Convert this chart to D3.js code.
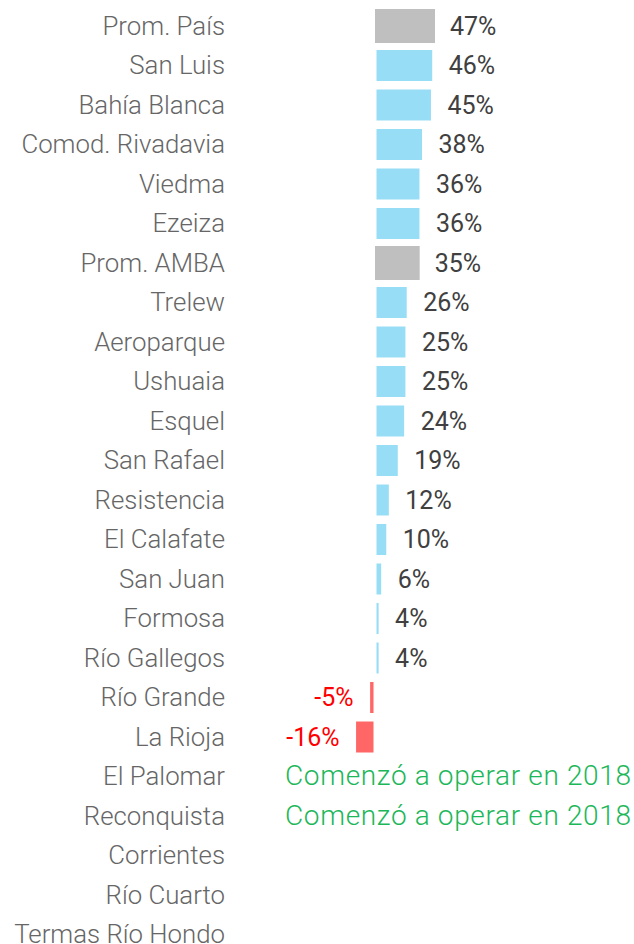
<!DOCTYPE html>
<html>
<head>
<meta charset="utf-8">
<script src="https://cdn.jsdelivr.net/npm/d3@7"></script>
<style>
  html, body { margin: 0; padding: 0; background: #fff; }
  svg text { font-family: Roboto, "Open Sans", sans-serif; }
</style>
</head>
<body>
<div id="chart"></div>
<script>
// Data
const airports = [
  'Prom. País', 'San Luis', 'Bahía Blanca', 'Comod. Rivadavia', 'Viedma', 'Ezeiza',
  'Prom. AMBA', 'Trelew', 'Aeroparque', 'Ushuaia', 'Esquel', 'San Rafael',
  'Resistencia', 'El Calafate', 'San Juan', 'Formosa', 'Río Gallegos', 'Río Grande',
  'La Rioja', 'El Palomar', 'Reconquista', 'Corrientes', 'Río Cuarto', 'Termas Río Hondo'
];
const growth = [
  47, 46, 45, 38, 36, 36,
  35, 26, 25, 25, 24, 19,
  12, 10, 6, 4, 4, -5,
  -16, null, null, null, null, null
];
const averages = ['Prom. País', 'Prom. AMBA'];
const notes = { 'El Palomar': 'Comenzó a operar en 2018', 'Reconquista': 'Comenzó a operar en 2018' };

const width = 634;
const height = 944;

const svg = d3.select('#chart')
  .append('svg')
  .attr('width', width)
  .attr('height', height);

// Scales
const xScale = d3.scaleLinear().domain([0, 47]).range([375, 435]);
const yScale = d3.scaleBand().domain(airports).range([6.25, 954.25]).padding(0);
const rowMid = d => yScale(d) + yScale.bandwidth() / 2;

const colorFor = (name, v) => {
  if (averages.includes(name)) return '#bfbfbf';
  return v < 0 ? '#ff6666' : '#97ddf5';
};

const rows = airports.map((name, i) => ({ name, value: growth[i] }));
const withValue = rows.filter(d => d.value !== null);

// Bars
const barH = 34;
svg.append('g')
  .selectAll('rect')
  .data(withValue)
  .enter()
  .append('rect')
  .attr('x', d => Math.min(xScale(0), xScale(d.value)))
  .attr('y', d => rowMid(d.name) - barH / 2)
  .attr('width', d => Math.abs(xScale(d.value) - xScale(0)))
  .attr('height', barH)
  .attr('fill', d => colorFor(d.name, d.value))
  .attr('stroke', d => (averages.includes(d.name) ? 'none' : '#fff'))
  .attr('stroke-width', 3);

// Category labels
svg.append('g')
  .selectAll('text')
  .data(airports)
  .enter()
  .append('text')
  .attr('x', 225)
  .attr('y', d => rowMid(d))
  .attr('dy', '0.33em')
  .attr('text-anchor', 'end')
  .attr('font-size', '25.8px')
  .attr('font-weight', 300)
  .attr('fill', '#666')
  .text(d => d);

// Value labels
svg.append('g')
  .selectAll('text')
  .data(withValue)
  .enter()
  .append('text')
  .attr('x', d => (d.value < 0 ? xScale(d.value) - 15 : xScale(d.value) + 15))
  .attr('y', d => rowMid(d.name))
  .attr('dy', '0.34em')
  .attr('text-anchor', d => (d.value < 0 ? 'end' : 'start'))
  .attr('font-size', '25px')
  .attr('fill', d => (d.value < 0 ? '#ff0000' : '#404040'))
  .text(d => `${d.value}%`);

// Notes
svg.append('g')
  .selectAll('text')
  .data(Object.keys(notes))
  .enter()
  .append('text')
  .attr('x', 285)
  .attr('y', d => rowMid(d))
  .attr('dy', '0.32em')
  .attr('font-size', '28px')
  .attr('font-weight', 300)
  .attr('letter-spacing', '0.65px')
  .attr('fill', '#1db75a')
  .text(d => notes[d]);
</script>
</body>
</html>
